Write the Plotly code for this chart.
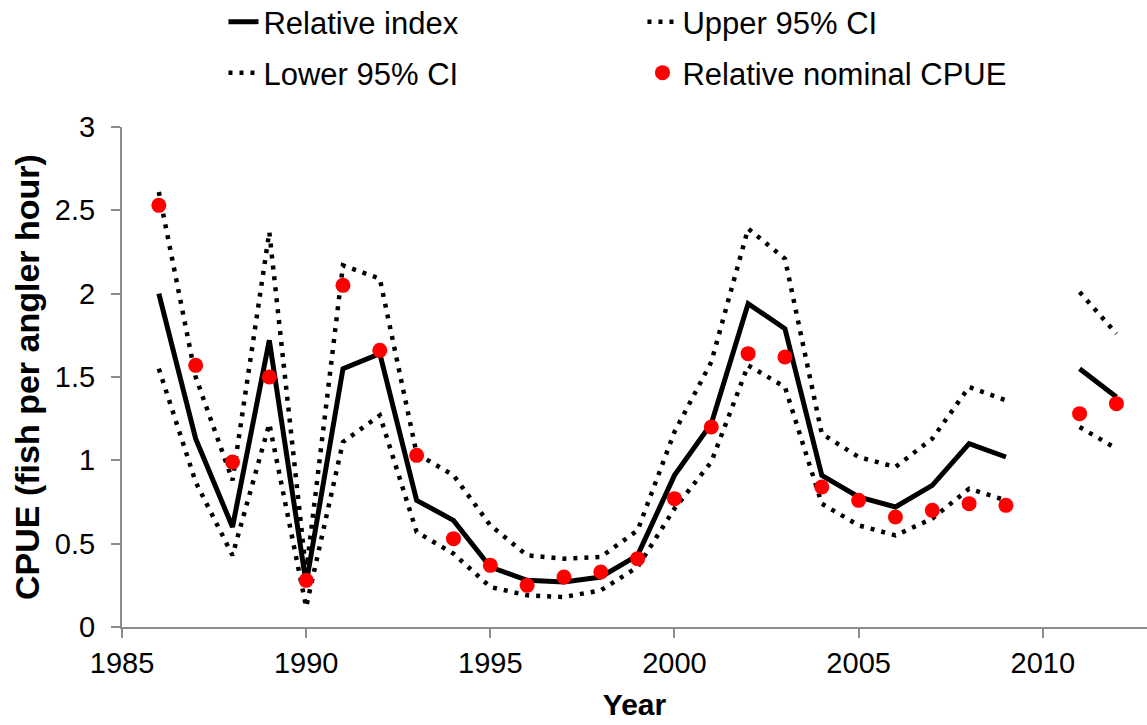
import plotly.graph_objects as go

years = [1986, 1987, 1988, 1989, 1990, 1991, 1992, 1993, 1994, 1995, 1996, 1997, 1998, 1999,
         2000, 2001, 2002, 2003, 2004, 2005, 2006, 2007, 2008, 2009, 2010, 2011, 2012]

relative_index = [2.00, 1.13, 0.60, 1.72, 0.26, 1.55, 1.64, 0.76, 0.64, 0.36, 0.28, 0.27, 0.30, 0.43,
                  0.91, 1.22, 1.94, 1.79, 0.91, 0.78, 0.72, 0.85, 1.10, 1.02, None, 1.55, 1.38]

upper_ci = [2.61, 1.50, 0.88, 2.37, 0.33, 2.17, 2.09, 1.04, 0.91, 0.61, 0.43, 0.41, 0.42, 0.58,
            1.17, 1.59, 2.39, 2.21, 1.16, 1.02, 0.96, 1.13, 1.44, 1.36, None, 2.01, 1.76]

lower_ci = [1.55, 0.87, 0.43, 1.22, 0.12, 1.11, 1.27, 0.57, 0.44, 0.24, 0.19, 0.18, 0.22, 0.36,
            0.71, 0.99, 1.57, 1.44, 0.74, 0.61, 0.55, 0.65, 0.83, 0.76, None, 1.20, 1.07]

nominal_cpue = [2.53, 1.57, 0.99, 1.50, 0.28, 2.05, 1.66, 1.03, 0.53, 0.37, 0.25, 0.30, 0.33, 0.41,
                0.77, 1.20, 1.64, 1.62, 0.84, 0.76, 0.66, 0.70, 0.74, 0.73, None, 1.28, 1.34]

y_ticks = [0, 0.5, 1, 1.5, 2, 2.5, 3]
y_tick_labels = ["0", "0.5", "1", "1.5", "2", "2.5", "3"]
x_ticks = [1985, 1990, 1995, 2000, 2005, 2010]
x_tick_labels = ["1985", "1990", "1995", "2000", "2005", "2010"]

FONT = "Liberation Sans, Arial, sans-serif"
dotted = "4px,7px"

fig = go.Figure()
fig.add_trace(go.Scatter(x=years, y=relative_index, mode="lines", name="Relative index",
                         line=dict(color="black", width=5), legend="legend"))
fig.add_trace(go.Scatter(x=years, y=upper_ci, mode="lines", name="Upper 95% CI",
                         line=dict(color="black", width=4.5, dash=dotted), legend="legend"))
fig.add_trace(go.Scatter(x=years, y=lower_ci, mode="lines", name="Lower 95% CI",
                         line=dict(color="black", width=4.5, dash=dotted), legend="legend2"))
fig.add_trace(go.Scatter(x=years, y=nominal_cpue, mode="markers", name="Relative nominal CPUE",
                         marker=dict(color="#ff0000", size=15), legend="legend2"))

legend_common = dict(orientation="h", xanchor="left", yanchor="middle",
                     font=dict(family=FONT, size=31, color="black"),
                     entrywidth=374, entrywidthmode="pixels",
                     bgcolor="rgba(0,0,0,0)", tracegroupgap=0)

fig.update_layout(
    width=1147, height=725,
    margin=dict(l=122, r=0, t=127, b=98, autoexpand=False),
    paper_bgcolor="white", plot_bgcolor="white",
    font=dict(family=FONT, color="black"),
    showlegend=True,
    legend=dict(x=0.099, y=1.21, **legend_common),
    legend2=dict(x=0.099, y=1.108, **legend_common),
    xaxis=dict(range=[1985, 2012.83], tickvals=x_ticks, ticktext=x_tick_labels,
               showgrid=False, zeroline=False, showline=True, linecolor="#8c8c8c", linewidth=2,
               ticks="outside", ticklen=9, tickwidth=2, tickcolor="#8c8c8c",
               tickfont=dict(family=FONT, size=29, color="black"),
               title=dict(text="<b>Year</b>", font=dict(family=FONT, size=30, color="black"), standoff=16)),
    yaxis=dict(range=[0, 3], tickvals=y_ticks, ticktext=y_tick_labels,
               showgrid=False, zeroline=False, showline=True, linecolor="#8c8c8c", linewidth=2,
               ticks="outside", ticklen=9, tickwidth=2, tickcolor="#8c8c8c", ticklabelstandoff=10,
               tickfont=dict(family=FONT, size=29, color="black")),
    annotations=[dict(text="<b>CPUE (fish per angler hour)</b>", xref="paper", yref="paper",
                      x=-0.0927, y=0.5, xanchor="center", yanchor="middle", textangle=-90,
                      showarrow=False, font=dict(family=FONT, size=34, color="black"))],
)

fig.write_html("out.html")
